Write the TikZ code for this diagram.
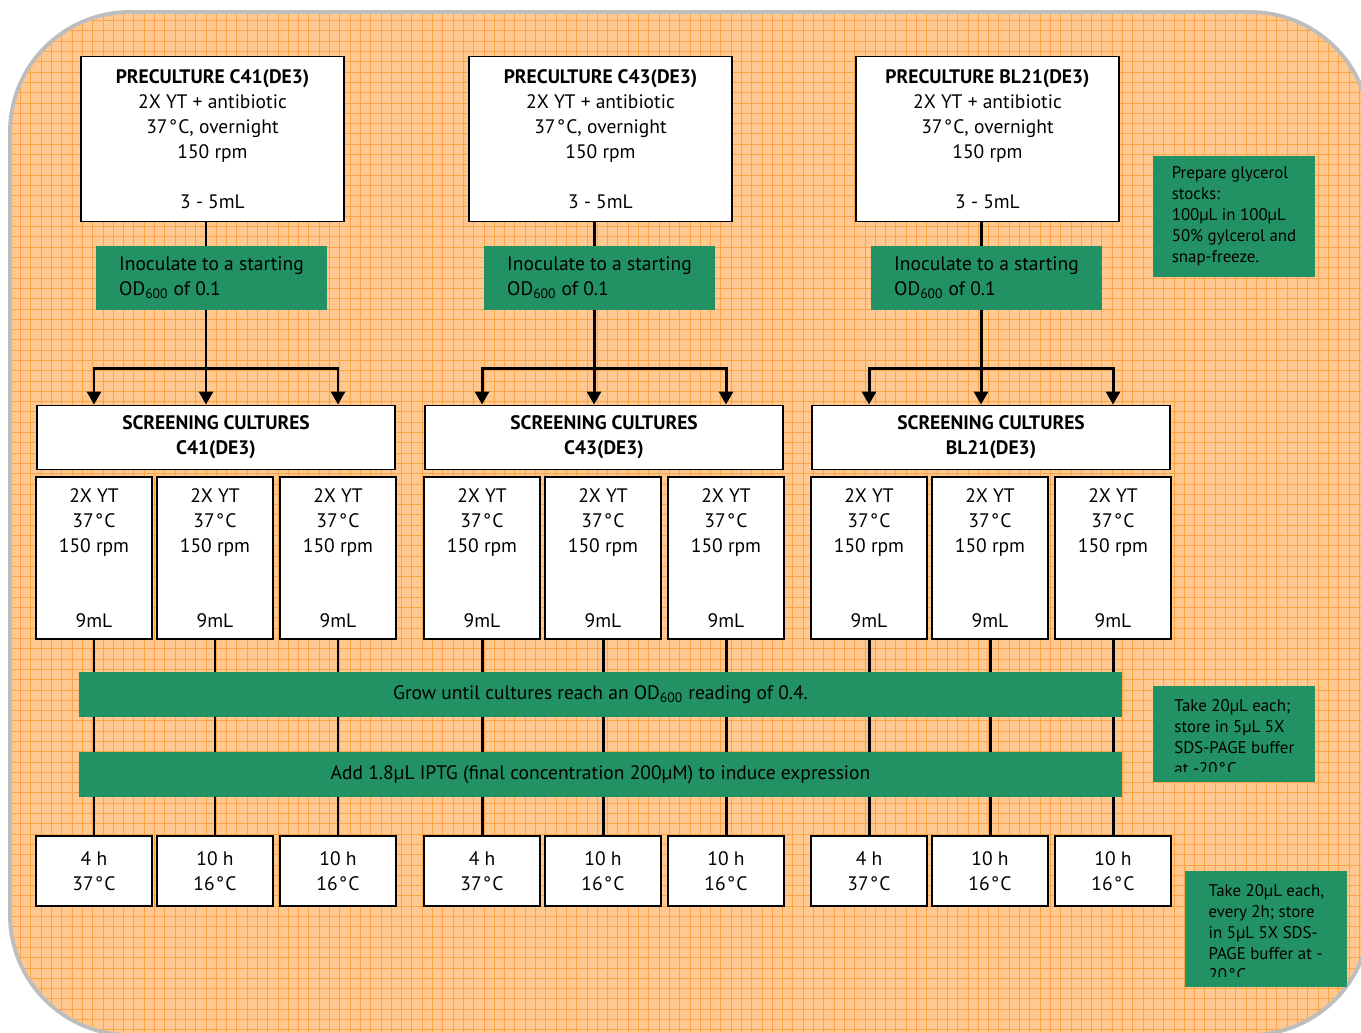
\documentclass[tikz,border=0pt]{standalone}
\usepackage{fontspec}
\setmainfont{PT Sans}
\usetikzlibrary{arrows.meta}
\definecolor{boxgreen}{HTML}{229164}
\definecolor{paperorange}{HTML}{FFC891}
\definecolor{gridorange}{HTML}{F9A545}
\definecolor{rimgray}{HTML}{BDBDBD}
\newcommand{\boxfont}{\fontsize{11.1}{14.17}\selectfont}
\newcommand{\notefont}{\fontsize{9.6}{11.9}\selectfont}
\newcommand{\degC}{\kern0.7pt°\kern0.7pt C}
\tikzstyle{prebox} = [
    draw=black,
    fill=white,
    line width=1.1pt,
    minimum width=5.26cm,
    minimum height=3.3cm,
    align=center,
    font=\boxfont
    ]
\tikzstyle{headbox} = [prebox, minimum width=7.16cm, minimum height=1.28cm, font=\boxfont\bfseries]
\tikzstyle{subbox} = [prebox, minimum width=2.32cm, minimum height=3.24cm]
\tikzstyle{timebox} = [prebox, minimum width=2.32cm, minimum height=1.4cm]
\tikzstyle{inocbox} = [
    fill=boxgreen,
    minimum width=4.62cm,
    minimum height=1.28cm,
    align=left,
    font=\boxfont
    ]
\tikzstyle{barbox} = [fill=boxgreen, minimum width=20.86cm, minimum height=0.9cm, font=\boxfont]
\tikzstyle{notebox} = [fill=boxgreen, minimum width=3.24cm, align=left, font=\notefont]
\tikzstyle{notetext} = [minimum width=3.24cm, align=left, inner ysep=0.26cm, font=\notefont]
\tikzstyle{link} = [line width=1.7pt]

\begin{document}
\begin{tikzpicture}[x=0.02cm, y=-0.02cm, >={Triangle[length=0.26cm,width=0.28cm]}]
\useasboundingbox (0,0) rectangle (1361,1032);
% squared paper
\begin{scope}
\clip (0,0) rectangle (1361,1032);
\fill[paperorange, rounded corners=2.4cm] (10,12) rectangle (1370,1035);
\begin{scope}
\clip[rounded corners=2.4cm] (10,12) rectangle (1370,1035);
\draw[gridorange, line width=0.5pt, step=0.206cm] (0,1032) grid (1361,0);
\end{scope}
\draw[rimgray, line width=2.2pt, rounded corners=2.4cm] (10,12) rectangle (1370,1035);
\end{scope}

% one column per strain
\foreach \g/\gx/\strain in {1/0/C41(DE3), 2/388/C43(DE3), 3/775/BL21(DE3)}{
    \node[prebox] (pre\g) at (\gx+212.5,139) {\textbf{PRECULTURE \strain}\\2X YT + antibiotic\\37\degC, overnight\\150 rpm\\[14.17pt]3 - 5mL};
    \node[inocbox] (ino\g) at (\gx+211.5,278) {Inoculate to a starting\\OD\textsubscript{600} of 0.1};
    \node[headbox] (head\g) at (\gx+216,437.5) {SCREENING CULTURES\\\strain};
    \foreach \s/\sx/\hrs/\temp in {1/58/4 h/37, 2/179/10 h/16, 3/302/10 h/16}{
        \node[subbox] (sub\g\s) at (\gx+36+\sx,558) {2X YT\\37\degC\\150 rpm\\[28.35pt]9mL};
        \node[timebox] (time\g\s) at (\gx+36+\sx,871) {\hrs\\\temp\degC};
    }
}

\node[barbox] (grow) at (600.5,694.5) {Grow until cultures reach an OD\textsubscript{600} reading of 0.4.};
\node[barbox] (iptg) at (600.5,774.5) {Add 1.8µL IPTG (final concentration 200µM) to induce expression};

% side notes
\node[notebox, minimum height=2.42cm] (glycerol) at (1234,216.5) {Prepare glycerol\\stocks:\\100µL in 100µL\\50\% gylcerol and\\snap-freeze.};
\fill[boxgreen] (1153,686) rectangle (1315,782);
\begin{scope}
\clip (1153,686) rectangle (1315,771);
\node[notetext, anchor=north west] (sample) at (1153,686) {Take 20µL each;\\store in 5µL 5X\\SDS-PAGE buffer\\at -20\degC.};
\end{scope}
\fill[boxgreen] (1185,871) rectangle (1347,987);
\begin{scope}
\clip (1185,871) rectangle (1347,976);
\node[notetext, anchor=north west] (timecourse) at (1185,871) {Take 20µL each,\\every 2h; store\\in 5µL 5X SDS-\\PAGE buffer at -\\20\degC};
\end{scope}

% connectors
\foreach \g/\gx in {1/0, 2/388, 3/775}{
    \coordinate (split\g) at (\gx+206,368);
    \draw[link] (pre\g.south -| split\g) -- (ino\g.north -| split\g);
    \draw[link] (ino\g.south -| split\g) -- (split\g);
    \draw[link, <->] (sub\g1 |- head\g.north) -- (sub\g1 |- split\g) -- (sub\g3 |- split\g) -- (sub\g3 |- head\g.north);
    \draw[link, ->] (split\g) -- (split\g |- head\g.north);
    \foreach \s in {1,2,3}{
        \draw[link] (sub\g\s.south) -- (sub\g\s.south |- grow.north);
        \draw[link] (sub\g\s.south |- grow.south) -- (sub\g\s.south |- iptg.north);
        \draw[link] (sub\g\s.south |- iptg.south) -- (time\g\s.north);
    }
}
\end{tikzpicture}
\end{document}
